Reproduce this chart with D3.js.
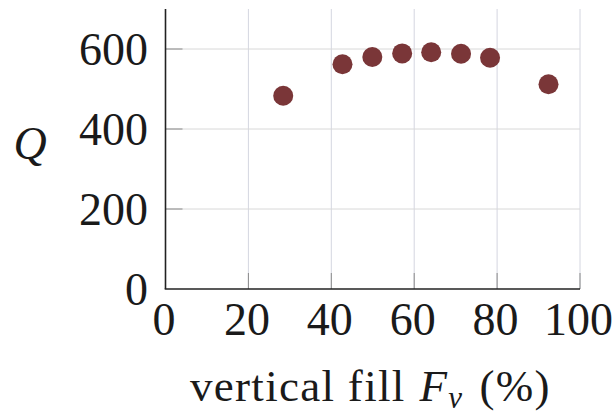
<!DOCTYPE html>
<html><head><meta charset="utf-8">
<script src="https://cdn.jsdelivr.net/npm/d3@7"></script>
<style>
html,body{margin:0;padding:0;background:#fff;}
svg{display:block;}
text{font-family:"Liberation Serif","DejaVu Serif",serif;fill:#1a1a1a;}
</style></head>
<body>
<script>
const fillPct = [28.4, 42.7, 49.9, 57.1, 64.1, 71.3, 78.3, 92.4];
const qValues = [483, 562, 580, 589, 592, 588, 578, 512];
const xTicks = [0, 20, 40, 60, 80, 100];
const yTicks = [0, 200, 400, 600];

const W = 615, H = 415;
const svg = d3.select("body").append("svg").attr("width", W).attr("height", H);

const x = d3.scaleLinear().domain([0, 100]).range([165.5, 580]);
const y = d3.scaleLinear().domain([0, 700]).range([289, 9]);

// grid
const g = svg.append("g");
g.selectAll(".vg").data(xTicks.slice(1)).join("line")
  .attr("x1", d => x(d)).attr("x2", d => x(d))
  .attr("y1", y(0)).attr("y2", y(700))
  .attr("stroke", "#d4d6e0").attr("stroke-width", 1);
g.selectAll(".hg").data(yTicks.slice(1)).join("line")
  .attr("x1", x(0)).attr("x2", x(100))
  .attr("y1", d => y(d)).attr("y2", d => y(d))
  .attr("stroke", "#d8d8d8").attr("stroke-width", 1);

// inner ticks
g.selectAll(".xt").data(xTicks.slice(1)).join("line")
  .attr("x1", d => x(d)).attr("x2", d => x(d))
  .attr("y1", y(0)).attr("y2", y(0) - 16)
  .attr("stroke", "#8a8a8a").attr("stroke-width", 1);
g.selectAll(".yt").data(yTicks.slice(1)).join("line")
  .attr("x1", x(0)).attr("x2", x(0) + 17)
  .attr("y1", d => y(d)).attr("y2", d => y(d))
  .attr("stroke", "#8a8a8a").attr("stroke-width", 1);

// axes lines
svg.append("line").attr("x1", x(0)).attr("x2", x(0)).attr("y1", y(700)).attr("y2", y(0))
  .attr("stroke", "#222").attr("stroke-width", 1.6);
svg.append("line").attr("x1", x(0) - 0.8).attr("x2", x(100)).attr("y1", y(0)).attr("y2", y(0))
  .attr("stroke", "#222").attr("stroke-width", 1.6);

// tick labels
svg.selectAll(".xl").data(xTicks).join("text")
  .attr("x", d => x(d) - 1.5).attr("y", 335)
  .attr("text-anchor", "middle").attr("font-size", 46)
  .text(d => d);
svg.selectAll(".yl").data(yTicks).join("text")
  .attr("x", 148).attr("y", d => y(d) + 16)
  .attr("text-anchor", "end").attr("font-size", 46)
  .text(d => d);

// axis titles
svg.append("text").attr("x", 30).attr("y", 159).attr("text-anchor", "middle")
  .attr("font-size", 46).attr("font-style", "italic").text("Q");

const xl = svg.append("text").attr("x", 190).attr("y", 401)
  .attr("font-size", 45).attr("letter-spacing", 1.3);
xl.append("tspan").text("vertical fill");
xl.append("tspan").attr("dx", 14).attr("font-style", "italic").text("F");
xl.append("tspan").attr("font-style", "italic").attr("font-size", 31).attr("dy", 7).text("v");
xl.append("tspan").attr("dy", -7).attr("dx", 16).text("(%)");

// points
svg.selectAll(".pt").data(fillPct.map((f, i) => [f, qValues[i]])).join("circle")
  .attr("cx", d => x(d[0])).attr("cy", d => y(d[1])).attr("r", 10)
  .attr("fill", "#7a3638");
</script>
</body></html>
